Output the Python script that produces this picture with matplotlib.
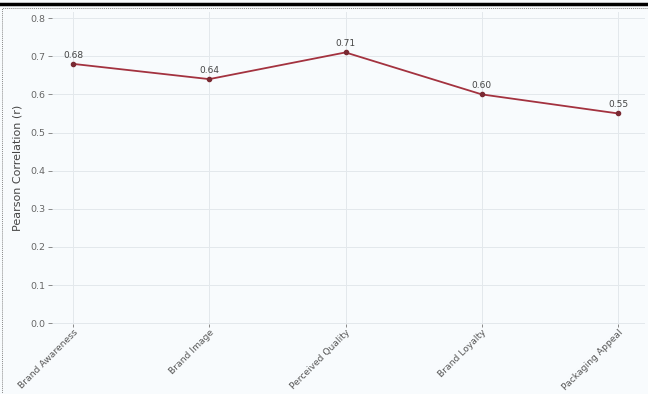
import matplotlib
matplotlib.use("Agg")
import matplotlib.pyplot as plt
from matplotlib.lines import Line2D
from matplotlib.patches import Rectangle

categories = ["Brand Awareness", "Brand Image", "Perceived Quality", "Brand Loyalty", "Packaging Appeal"]
correlations = [0.68, 0.64, 0.71, 0.60, 0.55]
y_ticks = [0.0, 0.1, 0.2, 0.3, 0.4, 0.5, 0.6, 0.7, 0.8]

bg = "#f8fbfd"
fig = plt.figure(figsize=(6.48, 3.94), dpi=100, facecolor=bg)
ax = fig.add_axes([52/648, 1-324/394, (645-52)/648, (324-12)/394])
ax.set_facecolor(bg)

x = list(range(len(categories)))
ax.plot(x, correlations, color="#a3323f", linewidth=1.3, marker="o", markersize=3,
        markerfacecolor="#7a2a33", markeredgecolor="#7a2a33", zorder=3)
for xi, v in zip(x, correlations):
    ax.annotate(f"{v:.2f}", (xi, v), textcoords="offset points", xytext=(0, 3),
                ha="center", va="bottom", fontsize=6.5, color="#444444")

ax.set_xlim(-0.154, 4.198)
ax.set_ylim(-0.002, 0.816)
ax.set_yticks(y_ticks)
ax.set_yticklabels([f"{t:.1f}" for t in y_ticks])
ax.set_xticks(x)
ax.set_xticklabels(categories, rotation=45, ha="right", rotation_mode="anchor")
ax.tick_params(axis="both", colors="#777777", width=0.6)
ax.tick_params(axis="x", labelsize=6.6, labelcolor="#555555", length=2, pad=1)
ax.tick_params(axis="y", labelsize=6.8, labelcolor="#666666", length=3, pad=2)
ax.set_ylabel("Pearson Correlation (r)", fontsize=8, color="#444444", labelpad=5)
ax.grid(True, color="#e3e8ec", linewidth=0.7)
ax.set_axisbelow(True)
for s in ax.spines.values():
    s.set_visible(False)

# page decorations: black rule on top and dotted frame
fig.add_artist(Line2D([0, 1], [1-4/394, 1-4/394], transform=fig.transFigure,
                      color="black", linewidth=2.5))
fig.add_artist(Rectangle((2/648, -0.01), 1.1, 1-8/394 + 0.01, transform=fig.transFigure,
                         fill=False, edgecolor="#888888", linestyle=(0, (1, 1)), linewidth=0.7))

fig.savefig("out.png", dpi=100, facecolor=fig.get_facecolor())
